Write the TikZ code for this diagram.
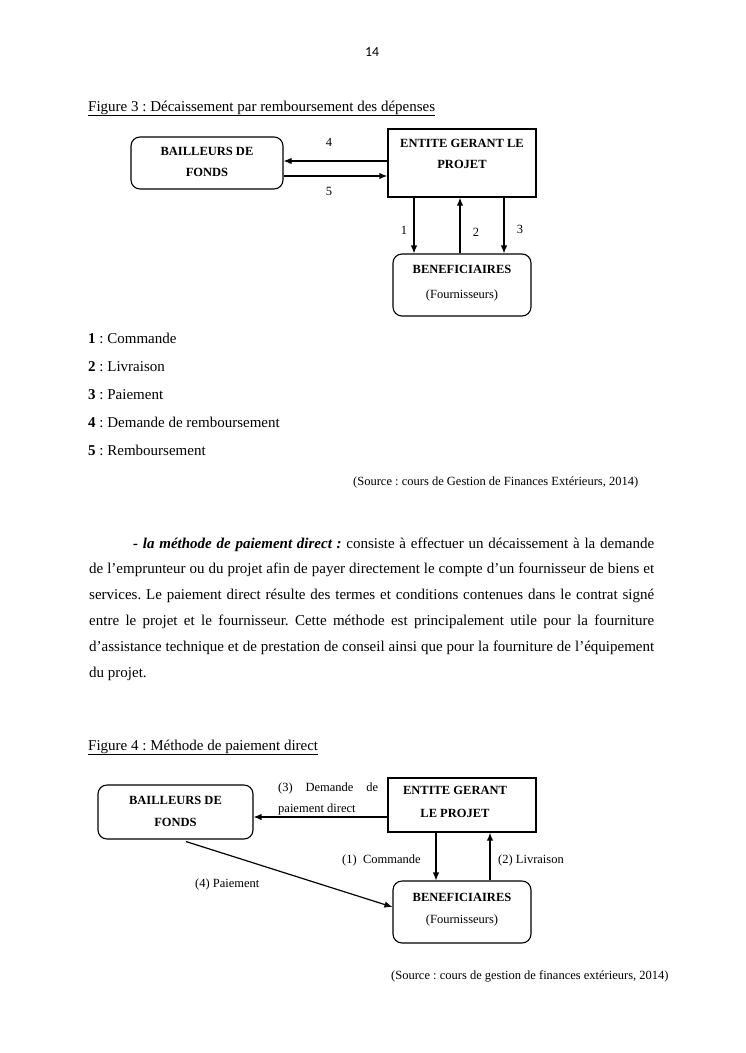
\documentclass[tikz,border=0pt]{standalone}
\usepackage{fontspec}
\setmainfont{Liberation Serif}
\newfontfamily\pnfont{Carlito}
\usetikzlibrary{arrows.meta}
\frenchspacing
\begin{document}
\begin{tikzpicture}[x=1pt,y=-1pt,
  rbox/.style={draw,line width=1.1pt,rounded corners=9pt,inner sep=0pt},
  sbox/.style={draw,line width=1.4pt,inner sep=0pt},
  arr/.style={line width=1.2pt,-{Latex[length=8pt,width=6.5pt]}},
  small/.style={font=\fontsize{12.5}{14}\selectfont,inner sep=0pt,anchor=base},
  smallb/.style={font=\fontsize{12.5}{14}\selectfont\bfseries,inner sep=0pt,anchor=base},
  body/.style={font=\fontsize{15}{18}\selectfont,inner sep=0pt,anchor=base west}]
\useasboundingbox[fill=white] (0,0) rectangle (745,1053);

% page number
\node[inner sep=0pt,anchor=base,font=\pnfont\fontsize{13.8}{16}\selectfont] (pn) at (372,56) {14};

% caption fig 3
\node[body] (cap3) at (88,111) {\underline{Figure 3 : Décaissement par remboursement des dépenses}};

% figure 3 boxes
\node[rbox,minimum width=152pt,minimum height=52pt] (b1) at (207,163) {};
\node[sbox,minimum width=148pt,minimum height=68pt] (e1) at (462,163) {};
\node[rbox,minimum width=138pt,minimum height=62pt] (f1) at (462,285) {};

\node[smallb] (b1t1) at (207,155) {BAILLEURS DE};
\node[smallb] (b1t2) at (207,176) {FONDS};
\node[smallb] (e1t1) at (462,147) {ENTITE GERANT LE};
\node[smallb] (e1t2) at (462,168) {PROJET};
\node[smallb] (f1t1) at (462,273) {BENEFICIAIRES};
\node[small] (f1t2) at (462,298) {(Fournisseurs)};

\draw[arr] (e1.west |- 0,161) -- (b1.east |- 0,161);
\draw[arr] (b1.east |- 0,176) -- (e1.west |- 0,176);
\draw[arr] (e1.south -| 414,0) -- (f1.north -| 414,0);
\draw[arr] (f1.north -| 460,0) -- (e1.south -| 460,0);
\draw[arr] (e1.south -| 504,0) -- (f1.north -| 504,0);

\node[small] (l4) at (329,146) {4};
\node[small] (l5) at (329,195) {5};
\node[small] (l1) at (404,234) {1};
\node[small] (l2) at (476,236) {2};
\node[small] (l3) at (520,233) {3};

% legend
\node[body] (g1) at (88,343) {\textbf{1} : Commande};
\node[body] (g2) at (88,371) {\textbf{2} : Livraison};
\node[body] (g3) at (88,399) {\textbf{3} : Paiement};
\node[body] (g4) at (88,427) {\textbf{4} : Demande de remboursement};
\node[body] (g5) at (88,455) {\textbf{5} : Remboursement};

\node[small,anchor=base west] (src1) at (353,485) {(Source : cours de Gestion de Finances Extérieurs, 2014)};

% paragraph
\node[body] (p1) at (133,548) {\hbox to 521pt{\textbf{\textit{- la méthode de paiement direct :}} consiste à effectuer un décaissement à la demande}};
\node[body] (p2) at (89,573) {\hbox to 565pt{de l’emprunteur ou du projet afin de payer directement le compte d’un fournisseur de biens et}};
\node[body] (p3) at (89,599) {\hbox to 565pt{services. Le paiement direct résulte des termes et conditions contenues dans le contrat signé}};
\node[body] (p4) at (89,625) {\hbox to 565pt{entre le projet et le fournisseur. Cette méthode est principalement utile pour la fourniture}};
\node[body] (p5) at (89,651) {\hbox to 565pt{d’assistance technique et de prestation de conseil ainsi que pour la fourniture de l’équipement}};
\node[body] (p6) at (89,677) {du projet.};

% caption fig 4
\node[body] (cap4) at (88,750) {\underline{Figure 4 : Méthode de paiement direct}};

% figure 4 boxes
\node[rbox,minimum width=155pt,minimum height=54pt] (b2) at (175.5,812) {};
\node[sbox,minimum width=148pt,minimum height=54pt] (e2) at (462,805) {};
\node[rbox,minimum width=138pt,minimum height=62pt] (f2) at (462,912) {};

\node[smallb] (b2t1) at (175.5,804) {BAILLEURS DE};
\node[smallb] (b2t2) at (175.5,826) {FONDS};
\node[smallb] (e2t1) at (455,794) {ENTITE GERANT};
\node[smallb] (e2t2) at (455,817) {LE PROJET};
\node[smallb] (f2t1) at (462,901) {BENEFICIAIRES};
\node[small] (f2t2) at (462,923) {(Fournisseurs)};

\draw[arr] (e2.west |- 0,817) -- (b2.east |- 0,817);
\draw[arr] (e2.south -| 436,0) -- (f2.north -| 436,0);
\draw[arr] (f2.north -| 490,0) -- (e2.south -| 490,0);
\draw[arr] ([xshift=10.5pt,yshift=-2pt]b2.south) -- (f2.west |- 0,907);

\node[small,anchor=base west] (d3a) at (278,791) {\hbox to 100pt{(3) \ Demande \ de}};
\node[small,anchor=base west] (d3b) at (278,812) {paiement direct};
\node[small,anchor=base west] (d1) at (342,863) {(1) \ Commande};
\node[small,anchor=base west] (d2) at (498,863) {(2) Livraison};
\node[small,anchor=base west] (d4) at (195,887) {(4) Paiement};

\node[small,anchor=base west] (src2) at (391,979) {(Source : cours de gestion de finances extérieurs, 2014)};
\end{tikzpicture}
\end{document}
